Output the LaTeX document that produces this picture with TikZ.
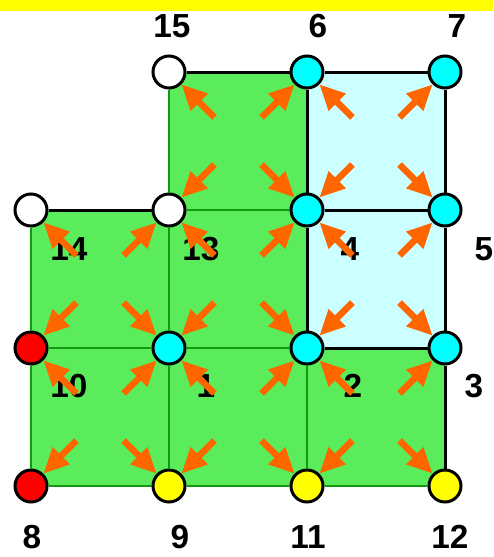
\documentclass[tikz,border=0pt]{standalone}
\usepackage{fontspec}
\setmainfont{Liberation Sans}
\usepackage{xcolor}
\usetikzlibrary{arrows.meta}
\definecolor{meshgreen}{HTML}{5AEC5A}
\definecolor{linegreen}{HTML}{119911}
\definecolor{lightcyan}{HTML}{CCFFFF}
\definecolor{nodecyan}{HTML}{00FFFF}
\definecolor{nodeyellow}{HTML}{FFFF00}
\definecolor{nodered}{HTML}{FF0000}
\definecolor{flowcolor}{HTML}{FF6600}

\begin{document}
\begin{tikzpicture}[x=0.75pt, y=-0.75pt, >={Triangle[length=19pt, width=17pt]}]
    \tikzstyle{vert} = [draw, circle, line width=2.25pt, minimum size=24pt, inner sep=0pt]
    \tikzstyle{num} = [font=\bfseries\fontsize{25}{30}\selectfont, inner sep=0pt]
    \tikzstyle{blk} = [line width=2.25pt]
    \tikzstyle{grn} = [linegreen, line width=1.8pt]
    \tikzstyle{flow} = [->, flowcolor, line width=5pt, shorten <=25pt]
    \useasboundingbox (0,0) rectangle (493,557);
    \fill[nodeyellow] (0,0) rectangle (493,11);
    % elements
    \fill[meshgreen] (169,72) -- (307,72) -- (307,348) -- (445,348) -- (445,486) -- (31,486) -- (31,210) -- (169,210) -- cycle;
    \fill[lightcyan] (307,72) rectangle (445,348);
    \coordinate (cell1) at (238,141);
    \coordinate (cell2) at (376,141);
    \coordinate (cell3) at (100,279);
    \coordinate (cell4) at (238,279);
    \coordinate (cell5) at (376,279);
    \coordinate (cell6) at (100,417);
    \coordinate (cell7) at (238,417);
    \coordinate (cell8) at (376,417);
    % nodes
    \node [vert, fill=white] at (169,72) (n15) {};
    \node [vert, fill=nodecyan] at (307,72) (n6) {};
    \node [vert, fill=nodecyan] at (445,72) (n7) {};
    \node [vert, fill=white] at (31,210) (n14) {};
    \node [vert, fill=white] at (169,210) (n13) {};
    \node [vert, fill=nodecyan] at (307,210) (n4) {};
    \node [vert, fill=nodecyan] at (445,210) (n5) {};
    \node [vert, fill=nodered] at (31,348) (n10) {};
    \node [vert, fill=nodecyan] at (169,348) (n1) {};
    \node [vert, fill=nodecyan] at (307,348) (n2) {};
    \node [vert, fill=nodecyan] at (445,348) (n3) {};
    \node [vert, fill=nodered] at (31,486) (n8) {};
    \node [vert, fill=nodeyellow] at (169,486) (n9) {};
    \node [vert, fill=nodeyellow] at (307,486) (n11) {};
    \node [vert, fill=nodeyellow] at (445,486) (n12) {};
    % edges
    \draw[grn] (n15) -- (n13);
    \draw[grn] (n13) -- (n4);
    \draw[grn] (n13) -- (n1);
    \draw[grn] (n1) -- (n9);
    \draw[grn] (n14) -- (n10);
    \draw[grn] (n10) -- (n8);
    \draw[grn] (n10) -- (n1);
    \draw[grn] (n1) -- (n2);
    \draw[grn] (n2) -- (n11);
    \draw[grn] (n8) -- (n9);
    \draw[grn] (n9) -- (n11);
    \draw[grn] (n11) -- (n12);
    \draw[blk] (n15) -- (n6);
    \draw[blk] (n6) -- (n7);
    \draw[blk] (n7) -- (n5);
    \draw[blk] (n5) -- (n3);
    \draw[blk] (n3) -- (n12);
    \draw[blk] (n6) -- (n4);
    \draw[blk] (n4) -- (n2);
    \draw[blk] (n4) -- (n5);
    \draw[blk] (n2) -- (n3);
    \draw[blk] (n14) -- (n13);
    % numbers
    \node [num] at (172,26) (l15) {15};
    \node [num] at (318,26) (l6) {6};
    \node [num] at (457,26) (l7) {7};
    \node [num] at (69,249) (l14) {14};
    \node [num] at (201,249) (l13) {13};
    \node [num] at (350,249) (l4) {4};
    \node [num] at (484,249) (l5) {5};
    \node [num] at (69,386) (l10) {10};
    \node [num] at (206,386) (l1) {1};
    \node [num] at (353,386) (l2) {2};
    \node [num] at (474,386) (l3) {3};
    \node [num] at (32,537) (l8) {8};
    \node [num] at (180,537) (l9) {9};
    \node [num] at (308,537) (l11) {11};
    \node [num] at (450,537) (l12) {12};
    % arrows to corners
    \draw[flow] (cell1) -- (n15);
    \draw[flow] (cell1) -- (n6);
    \draw[flow] (cell1) -- (n13);
    \draw[flow] (cell1) -- (n4);
    \draw[flow] (cell2) -- (n6);
    \draw[flow] (cell2) -- (n7);
    \draw[flow] (cell2) -- (n4);
    \draw[flow] (cell2) -- (n5);
    \draw[flow] (cell3) -- (n14);
    \draw[flow] (cell3) -- (n13);
    \draw[flow] (cell3) -- (n10);
    \draw[flow] (cell3) -- (n1);
    \draw[flow] (cell4) -- (n13);
    \draw[flow] (cell4) -- (n4);
    \draw[flow] (cell4) -- (n1);
    \draw[flow] (cell4) -- (n2);
    \draw[flow] (cell5) -- (n4);
    \draw[flow] (cell5) -- (n5);
    \draw[flow] (cell5) -- (n2);
    \draw[flow] (cell5) -- (n3);
    \draw[flow] (cell6) -- (n10);
    \draw[flow] (cell6) -- (n1);
    \draw[flow] (cell6) -- (n8);
    \draw[flow] (cell6) -- (n9);
    \draw[flow] (cell7) -- (n1);
    \draw[flow] (cell7) -- (n2);
    \draw[flow] (cell7) -- (n9);
    \draw[flow] (cell7) -- (n11);
    \draw[flow] (cell8) -- (n2);
    \draw[flow] (cell8) -- (n3);
    \draw[flow] (cell8) -- (n11);
    \draw[flow] (cell8) -- (n12);
\end{tikzpicture}
\end{document}
